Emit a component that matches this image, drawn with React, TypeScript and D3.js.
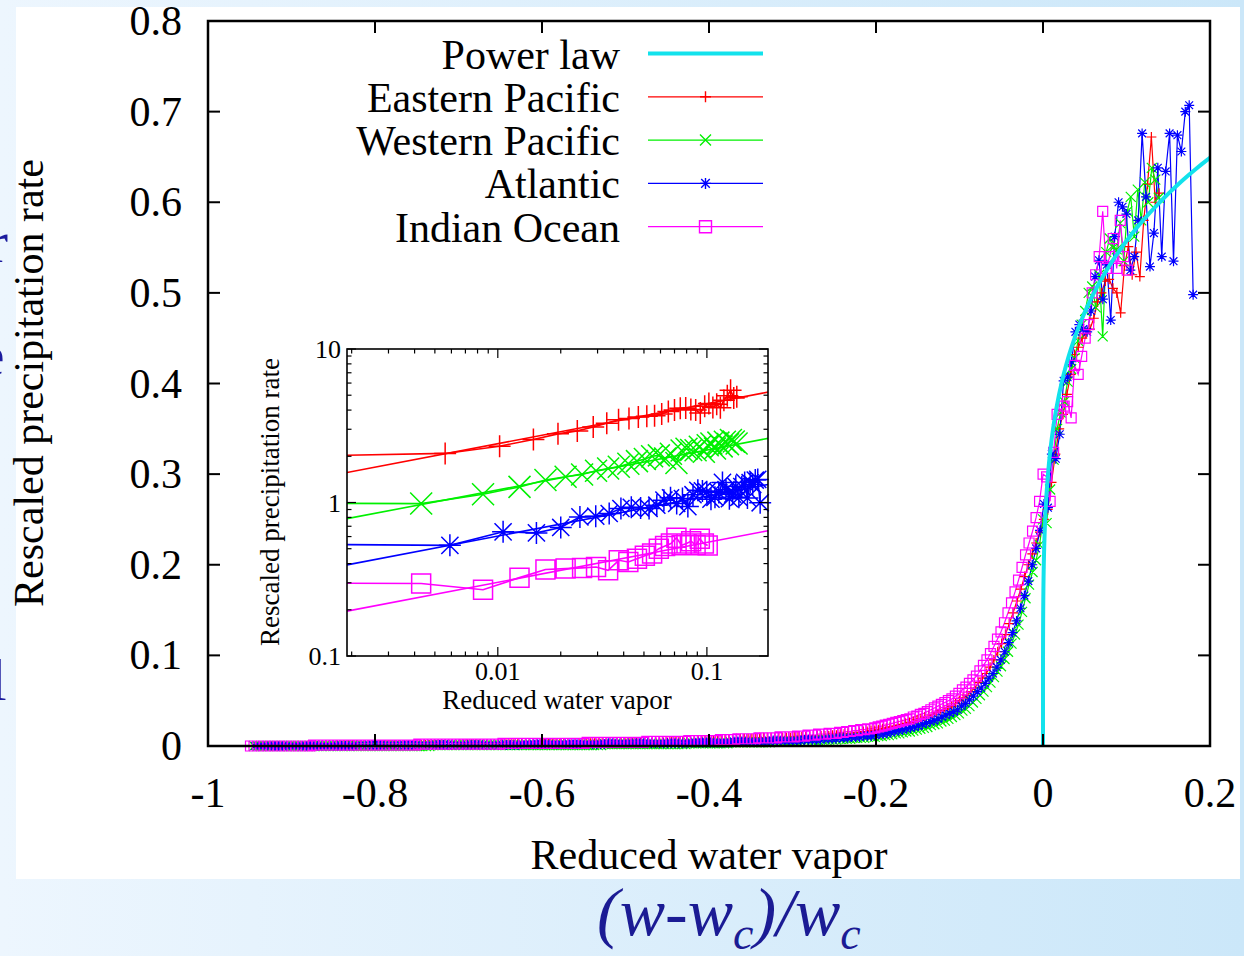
import React from "react";
import * as d3 from "d3";

// ---------------- data ----------------
const SERIES_NAMES = ["Eastern Pacific", "Western Pacific", "Atlantic", "Indian Ocean"];
const SERIES_COLORS = ["#ff0000", "#00f000", "#0000ff", "#ff00ff"];
const SERIES_MARKERS = ["plus", "cross", "star", "square"];
// each region's bins of reduced water vapor: x = anchor + k * step
const SERIES_STEPS = [0.0046, 0.0042, 0.0047, 0.0042];
const SERIES_ANCHORS = [0.001, 0.0001, 0.0012, 0.0001];
// offsets used in the log-log inset
const INSET_FACTORS = [8, 4, 2, 1];

// values for bins below the anchor (increasing x, last one is anchor - step)
const RED_BELOW = [
  0, 0, 0, 0, 0, 0, 0, 0, 0, 0, 0, 0, 0, 0, 0, 0, 0, 0, 0, 0,
  .001, .001, .001, .001, .001, .001, .001, .001, .001, .001, .001, .001, .001, .001, .001, .001, .001,
  .001, .001, .001, .001, .001, .001, .001, .001, .001, .001, .001, .001, .001, .001, .001, .001, .001,
  .002, .002, .002, .002, .002, .002, .002, .002, .002, .002, .002, .002, .002, .002, .002, .002, .002, .002, .002, .002, .002, .002,
  .003, .003, .003, .003, .003, .003, .003, .003, .003, .003, .003, .003, .003, .003, .003, .003, .003, .003, .003, .003, .003, .003,
  .004, .004, .004, .004, .004, .004, .004, .004, .004, .004, .004,
  .005, .005, .005, .005, .005, .005, .006, .006, .006, .006, .006, .006,
  .007, .007, .007, .007, .007, .008, .008, .008, .008, .008,
  .009, .009, .009, .009, .009, .009, .009, .009, .009, .009,
  .010, .010, .010, .010, .010, .011, .011, .011, .011, .011,
  .012, .012, .013, .013, .014, .014, .015, .015, .016, .016, .017, .017, .018, .019, .020, .021, .022, .023, .024, .025,
  .026, .027, .029, .030, .032, .033, .035, .037, .039, .040, .042, .044, .047, .050, .053, .056, .060, .064, .070, .075,
  .080, .087, .095, .104, .113, .123, .135, .147, .160, .173, .187, .200, .212, .224, .236,
];
const RED_ABOVE = [
  .25, .261, .291, .322, .35, .366, .388, .41, .432, .44, .45, .455, .46, .472, .49, .5,
  .513, .515, .505, .5, .478, .53, .551, .52, .545, .518, .58, .62, .672, .6, .61,
];

const GREEN_BELOW = [
  0, 0, 0, 0, 0, 0, 0, 0, 0, 0, 0, 0, 0, 0, 0, 0, 0, 0, 0, 0, 0, 0, 0, 0, 0, 0,
  0, 0, 0, 0, 0, 0, 0, 0, 0, 0, 0, 0, 0, 0, 0, 0, 0, 0, 0, 0, 0, 0, 0, 0, 0,
  .001, .001, .001, .001, .001, .001, .001, .001, .001, .001, .001, .001, .001, .001, .001, .001, .001,
  .001, .001, .001, .001, .001, .001, .001, .001, .001, .001, .001, .001, .001, .001, .001, .001, .001,
  .001, .001, .001, .001, .001, .001, .001, .001, .001, .001, .001, .001, .001, .001, .001,
  .002, .002, .002, .002, .002, .002, .002, .002, .002, .002, .002, .002,
  .002, .002, .002, .002, .002, .002, .002, .002, .002, .002, .002, .002,
  .003, .003, .003, .003, .003, .003, .003, .003, .003, .003, .003, .003,
  .004, .004, .004, .004, .004, .004, .004, .004, .004, .004, .004, .004,
  .005, .005, .005, .005, .005, .005, .005, .005, .005,
  .006, .006, .006, .006, .006, .007, .007, .007, .007, .007,
  .008, .008, .008, .008, .009, .009, .009, .009, .010, .010, .010,
  .011, .011, .012, .012, .013, .014, .014, .015, .016, .016, .017, .018, .019, .020, .021, .023,
  .024, .025, .027, .028, .030, .032, .034, .036, .039, .041, .044, .048, .052, .056, .060, .065,
  .070, .076, .082, .088, .096, .104, .113, .123, .134, .148, .163, .178, .192, .205, .222,
];
const GREEN_ABOVE = [
  .25, .246, .283, .316, .35, .368, .38, .402, .416, .428, .447, .465, .48, .5, .507, .484, .52,
  .452, .545, .56, .55, .548, .577, .535, .59, .606, .562, .614, .58, .622, .6, .638, .625, .605,
];

const BLUE_BELOW = [
  0, 0, 0, 0, 0, 0, 0, 0, 0, 0, 0, 0, 0, 0, 0, 0, 0, 0, 0, 0, 0, 0, 0, 0, 0, 0,
  .001, .001, .001, .001, .001, .001, .001, .001, .001, .001, .001, .001, .001, .001,
  .001, .001, .001, .001, .001, .001, .001, .001, .001, .001, .001, .001, .001, .001,
  .001, .001, .001, .001, .001, .001, .001, .001, .001, .001, .001, .001, .001, .001,
  .002, .002, .002, .002, .002, .002, .002, .002, .002, .002, .002,
  .002, .002, .002, .002, .002, .002, .002, .002, .002, .002, .002,
  .003, .003, .003, .003, .003, .003, .003, .003, .003, .003, .003,
  .003, .003, .003, .003, .003, .003, .003, .003, .003, .003,
  .004, .004, .004, .004, .004, .004, .004, .004, .004, .004, .004,
  .005, .005, .005, .005, .005, .005, .005, .005, .005, .005,
  .006, .006, .006, .006, .006, .006, .006, .006,
  .007, .007, .007, .007, .007, .008, .008, .008, .008,
  .009, .009, .009, .010, .010, .010, .011, .011, .011,
  .012, .013, .013, .014, .015, .016, .017, .018, .019, .020, .021, .022, .024, .025, .027,
  .028, .030, .032, .034, .036, .038, .040, .044, .047, .051, .055, .060, .064, .069, .075,
  .080, .087, .095, .104, .114, .125, .138, .152, .166, .182, .200, .218, .238,
];
const BLUE_ABOVE = [
  .267, .263, .322, .317, .344, .403, .407, .424, .457, .465, .46, .457, .48, .518, .536,
  .493, .531, .47, .562, .6, .595, .587, .525, .54, .58, .676, .606, .529, .566, .638,
  .54, .634, .676, .535, .674, .656, .70, .707, .498,
];

const MAGENTA_BELOW = [
  0, 0, 0, 0, 0, 0, 0, 0, 0, 0, 0, 0, 0, 0, 0, 0, 0, 0,
  .001, .001, .001, .001, .001, .001, .001, .001, .001, .001, .001, .001, .001, .001, .001,
  .001, .001, .001, .001, .001, .001, .001, .001, .001, .001, .001, .001, .001, .001, .001,
  .002, .002, .002, .002, .002, .002, .002, .002, .002, .002, .002, .002,
  .002, .002, .002, .002, .002, .002, .002, .002, .002, .002, .002, .002,
  .003, .003, .003, .003, .003, .003, .003, .003, .003, .003, .003, .003,
  .003, .003, .003, .003, .003, .003, .003, .003, .003, .003, .003, .003,
  .004, .004, .004, .004, .004, .004, .004, .004, .004, .004, .004, .004, .004, .004, .004, .004, .004,
  .005, .005, .005, .005, .005, .005, .005, .005, .005, .005, .005, .005,
  .006, .006, .006, .006, .006, .006, .006, .006, .006,
  .007, .007, .007, .007, .007, .008, .008, .008, .008, .008, .008,
  .009, .009, .009, .009, .009, .009, .010, .010, .010, .010, .010,
  .011, .011, .011, .012, .012, .012, .013, .013, .013, .014, .014, .014,
  .015, .015, .016, .016, .017, .017, .018, .018, .019, .019, .020, .021, .022, .023, .024,
  .025, .026, .027, .028, .029, .030, .032, .033, .035, .036, .038, .040, .042, .044, .046,
  .048, .050, .052, .055, .058, .062, .065, .069, .073, .077, .083, .089, .095, .102, .110,
  .118, .126, .136, .147, .158, .170, .183, .197, .211, .224, .237, .252, .270,
];
const MAGENTA_ABOVE = [
  .30, .297, .27, .324, .366, .371, .375, .38, .362, .42, .41, .43, .45, .465, .5, .52,
  .54, .59, .527, .54, .56, .527, .58, .54, .525,
];

const SERIES_BELOW = [RED_BELOW, GREEN_BELOW, BLUE_BELOW, MAGENTA_BELOW];
const SERIES_ABOVE = [RED_ABOVE, GREEN_ABOVE, BLUE_ABOVE, MAGENTA_ABOVE];

// power-law fit  P = a * x^beta
const POWER_LAW_NAME = "Power law";
const POWER_LAW_COLOR = "#12e2ec";
const POWER_LAW_AMPLITUDE = 0.925;
const POWER_LAW_EXPONENT = 0.22;
// fits drawn in the inset (times the region offset)
const INSET_FIT_AMPLITUDE = 1.0;
const INSET_FIT_EXPONENT = 0.26;

const X_TICKS = [-1, -0.8, -0.6, -0.4, -0.2, 0, 0.2];
const X_TICK_LABELS = ["-1", "-0.8", "-0.6", "-0.4", "-0.2", "0", "0.2"];
const Y_TICKS = [0, 0.1, 0.2, 0.3, 0.4, 0.5, 0.6, 0.7, 0.8];
const Y_TICK_LABELS = ["0", "0.1", "0.2", "0.3", "0.4", "0.5", "0.6", "0.7", "0.8"];
const INSET_X_TICKS = [0.01, 0.1];
const INSET_X_TICK_LABELS = ["0.01", "0.1"];
const INSET_Y_TICKS = [0.1, 1, 10];
const INSET_Y_TICK_LABELS = ["0.1", "1", "10"];
const X_TITLE = "Reduced water vapor";
const Y_TITLE = "Rescaled precipitation rate";

// ---------------- layout ----------------
const W = 1244;
const H = 956;
const FONT = "'Liberation Serif', 'Times New Roman', Times, serif";
const PLOT = { left: 208, right: 1210, top: 21, bottom: 746 };
const INSET = { left: 347, right: 768, top: 349, bottom: 656 };

type Pt = { x: number; y: number };

function buildSeries(below: number[], above: number[], anchor: number, step: number): Pt[] {
  const pts: Pt[] = [];
  below.forEach((y, j) => pts.push({ x: anchor - (below.length - j) * step, y }));
  above.forEach((y, k) => pts.push({ x: anchor + k * step, y }));
  return pts;
}

function markerPath(kind: string, cx: number, cy: number, s: number): string {
  const plus = `M${cx - s},${cy}H${cx + s}M${cx},${cy - s}V${cy + s}`;
  const c = s;
  const cross = `M${cx - c},${cy - c}L${cx + c},${cy + c}M${cx - c},${cy + c}L${cx + c},${cy - c}`;
  if (kind === "plus") return plus;
  if (kind === "cross") return cross;
  if (kind === "star") {
    const d = s * 0.78;
    return plus + `M${cx - d},${cy - d}L${cx + d},${cy + d}M${cx - d},${cy + d}L${cx + d},${cy - d}`;
  }
  return `M${cx - s},${cy - s}h${2 * s}v${2 * s}h${-2 * s}Z`;
}

export default function App() {
  const x = d3.scaleLinear().domain([-1, 0.2]).range([PLOT.left, PLOT.right]);
  const y = d3.scaleLinear().domain([0, 0.8]).range([PLOT.bottom, PLOT.top]);
  const ix = d3.scaleLog().domain([0.0019, 0.196]).range([INSET.left, INSET.right]);
  const iy = d3.scaleLog().domain([0.1, 10]).range([INSET.bottom, INSET.top]);

  const series = SERIES_NAMES.map((name, i) => ({
    name,
    color: SERIES_COLORS[i],
    marker: SERIES_MARKERS[i],
    factor: INSET_FACTORS[i],
    pts: buildSeries(SERIES_BELOW[i], SERIES_ABOVE[i], SERIES_ANCHORS[i], SERIES_STEPS[i]),
  }));

  const line = d3.line<Pt>().x((d) => x(d.x)).y((d) => y(d.y));

  // power-law curve
  const plX = [0, ...d3.range(-9, Math.log10(0.2), 0.02).map((e) => Math.pow(10, e)), 0.2];
  const plPts = plX.map((v) => ({ x: v, y: POWER_LAW_AMPLITUDE * Math.pow(v, POWER_LAW_EXPONENT) }));

  // inset
  const [ixMin, ixMax] = ix.domain();
  const inLine = d3
    .line<Pt>()
    .x((d) => ix(d.x))
    .y((d) => iy(d.y));

  const majorLen = 9;
  const minorLen = 4.5;
  const insetMinorX: number[] = [];
  [0.001, 0.01, 0.1].forEach((dec) => {
    for (let m = 2; m <= 9; m++) {
      const v = m * dec;
      if (v > ixMin && v < ixMax) insetMinorX.push(v);
    }
  });
  const insetMinorY: number[] = [];
  [0.1, 1].forEach((dec) => {
    for (let m = 2; m <= 9; m++) insetMinorY.push(m * dec);
  });

  const legendRows = [
    { name: POWER_LAW_NAME, color: POWER_LAW_COLOR, marker: "", width: 4 },
    ...series.map((s) => ({ name: s.name, color: s.color, marker: s.marker, width: 1.3 })),
  ];

  return (
    <svg
      width={W}
      height={H}
      viewBox={`0 0 ${W} ${H}`}
      style={{ position: "absolute", left: 0, top: 0, display: "block" }}
      fontFamily={FONT}
    >
      <defs>
        <linearGradient id="bg" x1="0" y1="0" x2="1" y2="0">
          <stop offset="0" stopColor="#edf6fe" />
          <stop offset="1" stopColor="#cbe7f9" />
        </linearGradient>
        <clipPath id="plotClip">
          <rect x={PLOT.left} y={PLOT.top} width={PLOT.right - PLOT.left} height={PLOT.bottom - PLOT.top} />
        </clipPath>
        <clipPath id="insetClip">
          <rect x={INSET.left} y={INSET.top} width={INSET.right - INSET.left} height={INSET.bottom - INSET.top} />
        </clipPath>
      </defs>

      <rect x={0} y={0} width={W} height={H} fill="url(#bg)" />
      {/* cropped slide text at left edge */}
      <g fill="#1c1c9e" fontSize={60}>
        <text x={-12} y={262}>r</text>
        <text x={-22} y={375}>e</text>
        <text x={-10} y={700}>l</text>
      </g>
      <rect x={16} y={7} width={1224} height={872} fill="#ffffff" />

      {/* main series */}
      <g clipPath="url(#plotClip)">
        {series.map((s) => (
          <path key={s.name + "l"} d={line(s.pts) || ""} fill="none" stroke={s.color} strokeWidth={1.2} />
        ))}
      </g>
      {series.map((s) => (
        <path
          key={s.name + "m"}
          d={s.pts.map((p) => markerPath(s.marker, x(p.x), y(p.y), 5)).join("")}
          fill="none"
          stroke={s.color}
          strokeWidth={1.2}
        />
      ))}
      <g clipPath="url(#plotClip)">
        <path d={line(plPts) || ""} fill="none" stroke={POWER_LAW_COLOR} strokeWidth={4} />
      </g>

      {/* main frame & ticks */}
      <rect
        x={PLOT.left}
        y={PLOT.top}
        width={PLOT.right - PLOT.left}
        height={PLOT.bottom - PLOT.top}
        fill="none"
        stroke="#000"
        strokeWidth={2.5}
      />
      {X_TICKS.map((t) => (
        <g key={"xt" + t} stroke="#000" strokeWidth={2}>
          <line x1={x(t)} x2={x(t)} y1={PLOT.bottom} y2={PLOT.bottom - 12} />
          <line x1={x(t)} x2={x(t)} y1={PLOT.top} y2={PLOT.top + 12} />
        </g>
      ))}
      {Y_TICKS.map((t) => (
        <g key={"yt" + t} stroke="#000" strokeWidth={2}>
          <line x1={PLOT.left} x2={PLOT.left + 12} y1={y(t)} y2={y(t)} />
          <line x1={PLOT.right} x2={PLOT.right - 12} y1={y(t)} y2={y(t)} />
        </g>
      ))}
      <g fontSize={42} fill="#000">
        {X_TICKS.map((t, i) => (
          <text key={"xl" + t} x={x(t)} y={807} textAnchor="middle">
            {X_TICK_LABELS[i]}
          </text>
        ))}
        {Y_TICKS.map((t, i) => (
          <text key={"yl" + t} x={182} y={y(t) + 14} textAnchor="end">
            {Y_TICK_LABELS[i]}
          </text>
        ))}
        <text x={709} y={869} textAnchor="middle">
          {X_TITLE}
        </text>
        <text transform="translate(43,383) rotate(-90)" textAnchor="middle">
          {Y_TITLE}
        </text>
      </g>

      {/* legend */}
      {legendRows.map((r, i) => {
        const cy = 53.5 + i * 43.3;
        return (
          <g key={"lg" + r.name}>
            <text x={620} y={cy + 15} textAnchor="end" fontSize={42} fill="#000">
              {r.name}
            </text>
            <line x1={648} x2={763} y1={cy} y2={cy} stroke={r.color} strokeWidth={r.width} />
            {r.marker && (
              <path
                d={markerPath(r.marker, 705.5, cy, r.marker === "square" ? 6 : 5.5)}
                fill="none"
                stroke={r.color}
                strokeWidth={1.4}
              />
            )}
          </g>
        );
      })}

      {/* inset */}
      <rect
        x={INSET.left}
        y={INSET.top}
        width={INSET.right - INSET.left}
        height={INSET.bottom - INSET.top}
        fill="#fff"
      />
      <g clipPath="url(#insetClip)">
        {series.map((s) => {
          const pos = s.pts.filter((p) => p.x > 0).map((p) => ({ x: p.x, y: p.y * s.factor }));
          const fit = [ixMin, ixMax].map((v) => ({
            x: v,
            y: s.factor * INSET_FIT_AMPLITUDE * Math.pow(v, INSET_FIT_EXPONENT),
          }));
          return (
            <g key={"il" + s.name}>
              <path d={inLine(pos) || ""} fill="none" stroke={s.color} strokeWidth={1.6} />
              <path d={inLine(fit) || ""} fill="none" stroke={s.color} strokeWidth={1.6} />
            </g>
          );
        })}
      </g>
      {series.map((s) => (
        <path
          key={"im" + s.name}
          d={s.pts
            .filter((p) => p.x >= ixMin && p.x <= ixMax)
            .map((p) => markerPath(s.marker, ix(p.x), iy(p.y * s.factor), s.marker === "square" ? 9.5 : 11))
            .join("")}
          fill="none"
          stroke={s.color}
          strokeWidth={1.5}
        />
      ))}
      <rect
        x={INSET.left}
        y={INSET.top}
        width={INSET.right - INSET.left}
        height={INSET.bottom - INSET.top}
        fill="none"
        stroke="#000"
        strokeWidth={1.6}
      />
      <g stroke="#000" strokeWidth={1.2}>
        {INSET_X_TICKS.map((t) => (
          <g key={"ixt" + t}>
            <line x1={ix(t)} x2={ix(t)} y1={INSET.bottom} y2={INSET.bottom - majorLen} />
            <line x1={ix(t)} x2={ix(t)} y1={INSET.top} y2={INSET.top + majorLen} />
          </g>
        ))}
        {insetMinorX.map((t) => (
          <g key={"ixm" + t}>
            <line x1={ix(t)} x2={ix(t)} y1={INSET.bottom} y2={INSET.bottom - minorLen} />
            <line x1={ix(t)} x2={ix(t)} y1={INSET.top} y2={INSET.top + minorLen} />
          </g>
        ))}
        {INSET_Y_TICKS.map((t) => (
          <g key={"iyt" + t}>
            <line x1={INSET.left} x2={INSET.left + majorLen} y1={iy(t)} y2={iy(t)} />
            <line x1={INSET.right} x2={INSET.right - majorLen} y1={iy(t)} y2={iy(t)} />
          </g>
        ))}
        {insetMinorY.map((t) => (
          <g key={"iym" + t}>
            <line x1={INSET.left} x2={INSET.left + minorLen} y1={iy(t)} y2={iy(t)} />
            <line x1={INSET.right} x2={INSET.right - minorLen} y1={iy(t)} y2={iy(t)} />
          </g>
        ))}
      </g>
      <g fill="#000">
        {INSET_X_TICKS.map((t, i) => (
          <text key={"ixl" + t} x={ix(t)} y={680} textAnchor="middle" fontSize={26}>
            {INSET_X_TICK_LABELS[i]}
          </text>
        ))}
        {INSET_Y_TICKS.map((t, i) => (
          <text key={"iyl" + t} x={341} y={iy(t) + 9} textAnchor="end" fontSize={26}>
            {INSET_Y_TICK_LABELS[i]}
          </text>
        ))}
        <text x={557} y={709} textAnchor="middle" fontSize={27}>
          {X_TITLE}
        </text>
        <text transform="translate(279,502) rotate(-90)" textAnchor="middle" fontSize={27}>
          {Y_TITLE}
        </text>
      </g>

      {/* caption */}
      <text x={597} y={935} fontSize={68} fontStyle="italic" fill="#1b1b94">
        (w-w
        <tspan fontSize={46} dy={14}>
          c
        </tspan>
        <tspan dy={-14}>)/w</tspan>
        <tspan fontSize={46} dy={14}>
          c
        </tspan>
      </text>
    </svg>
  );
}
